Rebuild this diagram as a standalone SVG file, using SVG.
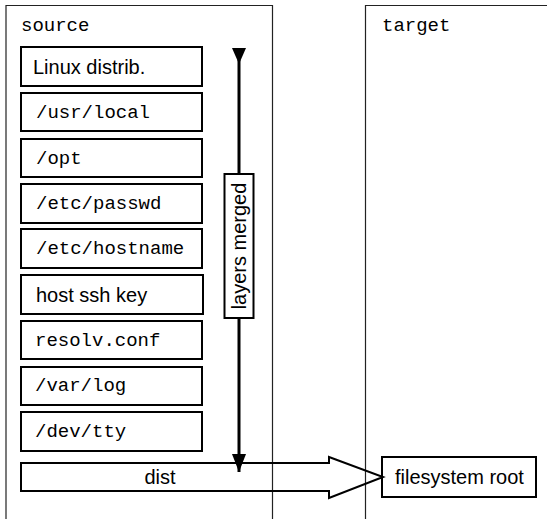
<svg xmlns="http://www.w3.org/2000/svg" width="547" height="519" viewBox="0 0 547 519">
<style>
.panel{fill:none;stroke:#222;stroke-width:1.2}
.box{fill:#fff;stroke:#000;stroke-width:2}
.mono{font-family:"Liberation Mono","Courier New",monospace;font-size:19px;fill:#000}
.sans{font-family:"Liberation Sans",Arial,Helvetica,sans-serif;font-size:20px;fill:#000}
.conn{fill:none;stroke:#000}
</style>
<defs>
<marker id="tri" viewBox="0 0 14 18" refX="7" refY="18" markerWidth="14" markerHeight="18" markerUnits="userSpaceOnUse" orient="0">
<path d="M0,0 L14,0 L7,18 Z" fill="#000"/>
</marker>
</defs>
<g id="source">
<path class="panel" d="M6,520 V5.5 H272.5 V520"/>
<text class="mono" x="21" y="31">source</text>
</g>
<g id="target">
<path class="panel" d="M365.5,520 V5.5 H548"/>
<text class="mono" x="382" y="31">target</text>
</g>
<g id="n-linux"><rect class="box" x="21" y="47" width="181" height="39"/><text class="sans" x="33" y="74">Linux distrib.</text></g>
<g id="n-usrlocal"><rect class="box" x="21" y="93" width="181" height="38"/><text class="mono" x="36" y="118">/usr/local</text></g>
<g id="n-opt"><rect class="box" x="21" y="139" width="181" height="38"/><text class="mono" x="36" y="164">/opt</text></g>
<g id="n-passwd"><rect class="box" x="21" y="184" width="181" height="39"/><text class="mono" x="36" y="209">/etc/passwd</text></g>
<g id="n-hostname"><rect class="box" x="21" y="229" width="181" height="39"/><text class="mono" x="36" y="254">/etc/hostname</text></g>
<g id="n-sshkey"><rect class="box" x="21" y="275" width="182" height="39"/><text class="sans" x="36" y="302">host ssh key</text></g>
<g id="n-resolv"><rect class="box" x="21" y="321" width="181" height="38"/><text class="mono" x="35" y="346">resolv.conf</text></g>
<g id="n-varlog"><rect class="box" x="21" y="367" width="181" height="38"/><text class="mono" x="35" y="391">/var/log</text></g>
<g id="n-devtty"><rect class="box" x="21" y="412" width="181" height="39"/><text class="mono" x="35" y="437">/dev/tty</text></g>
<g id="n-fsroot"><rect class="box" x="382" y="457" width="154" height="40"/><text class="sans" x="395" y="484">filesystem root</text></g>
<g id="connectors">
<path class="conn" stroke-width="2" d="M21,463 H329 V457 L383,477 L329,498 V491 H21 Z"/>
<text class="sans" x="160" y="484" text-anchor="middle">dist</text>
<line class="conn" stroke-width="3" x1="239" y1="60" x2="239" y2="472" marker-end="url(#tri)"/>
<path d="M232,48 H246 L239,64 Z" fill="#000"/>
</g>
<g id="n-layers">
<rect class="box" x="224.5" y="174" width="29" height="144"/>
<text class="sans" transform="translate(246,246) rotate(-90)" text-anchor="middle">layers merged</text>
</g>
</svg>
